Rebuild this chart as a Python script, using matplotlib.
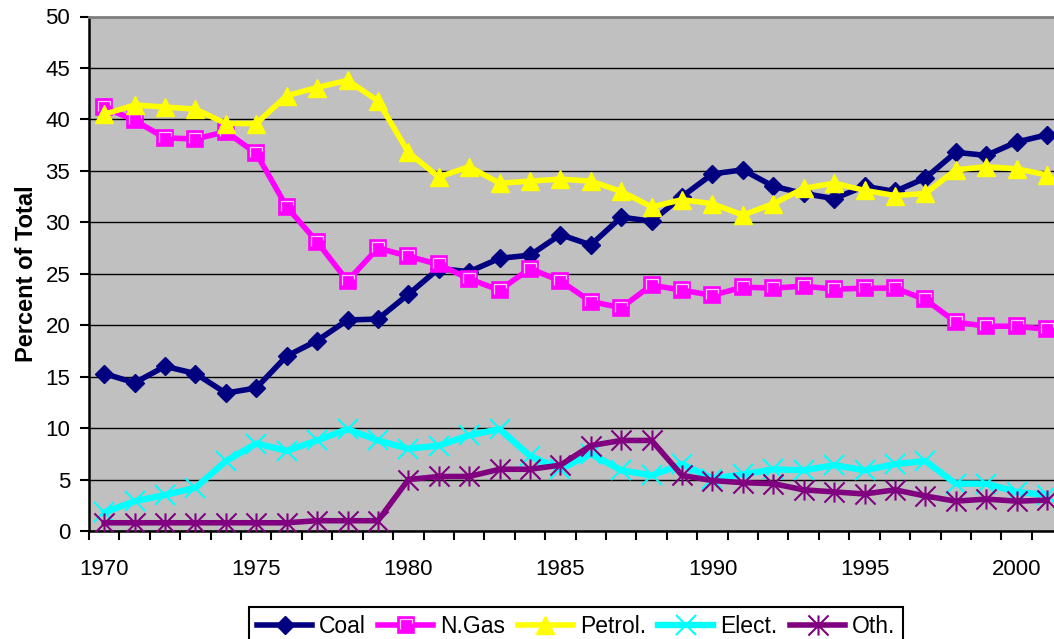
import matplotlib
matplotlib.use("Agg")
import matplotlib.pyplot as plt
from matplotlib.path import Path
from matplotlib.ticker import MultipleLocator, FixedLocator

plt.rcParams['font.family'] = ['Liberation Sans', 'DejaVu Sans']

years = list(range(1970, 2002))

coal = [15.3, 14.4, 16.0, 15.3, 13.4, 13.9, 17.0, 18.5, 20.5, 20.6,
        23.0, 25.5, 25.2, 26.5, 26.8, 28.8, 27.8, 30.5, 30.1, 32.5,
        34.7, 35.1, 33.5, 32.8, 32.3, 33.5, 33.0, 34.3, 36.8, 36.5,
        37.8, 38.5]
ngas = [41.2, 39.9, 38.2, 38.1, 38.8, 36.7, 31.5, 28.1, 24.3, 27.5,
        26.7, 25.9, 24.5, 23.4, 25.5, 24.3, 22.3, 21.7, 23.9, 23.4,
        22.9, 23.7, 23.6, 23.8, 23.5, 23.6, 23.6, 22.5, 20.3, 19.9,
        19.9, 19.6]
petrol = [40.5, 41.4, 41.2, 41.0, 39.6, 39.6, 42.3, 43.1, 43.8, 41.8,
          36.8, 34.4, 35.4, 33.8, 34.0, 34.2, 34.0, 33.0, 31.5, 32.2,
          31.8, 30.7, 31.8, 33.3, 33.8, 33.1, 32.6, 32.8, 35.1, 35.4,
          35.2, 34.6]
elect = [1.8, 2.9, 3.5, 4.2, 6.8, 8.5, 7.8, 8.8, 9.9, 8.8,
         8.0, 8.3, 9.3, 9.9, 7.3, 6.0, 7.5, 5.9, 5.4, 6.5,
         5.1, 5.5, 6.0, 5.9, 6.4, 5.9, 6.5, 6.8, 4.6, 4.6,
         3.8, 3.5]
other = [0.8, 0.8, 0.8, 0.8, 0.8, 0.8, 0.8, 1.0, 1.0, 1.0,
         5.0, 5.3, 5.3, 6.0, 6.0, 6.4, 8.3, 8.8, 8.8, 5.4,
         4.9, 4.7, 4.6, 4.0, 3.8, 3.6, 4.0, 3.4, 2.9, 3.1,
         2.9, 3.0]

series_names = ["Coal", "N.Gas", "Petrol.", "Elect.", "Oth."]
year_labels = ["1970", "1975", "1980", "1985", "1990", "1995", "2000"]

# asterisk marker: vertical bar plus an X
star_path = Path(
    [(0, -1), (0, 1), (-1, -1), (1, 1), (-1, 1), (1, -1)],
    [Path.MOVETO, Path.LINETO, Path.MOVETO, Path.LINETO, Path.MOVETO, Path.LINETO])
# highlight edge drawn inside the square marker
inner_path = Path(
    [(-1, -0.8), (-1, 1), (1, 1), (1, 0.3)],
    [Path.MOVETO, Path.LINETO, Path.LINETO, Path.LINETO])

fig = plt.figure(figsize=(10.54, 6.39), dpi=100)
ax = fig.add_axes([89 / 1054, 108 / 639, (1054 - 89) / 1054, 514.5 / 639])
ax.set_facecolor('#C0C0C0')

x = list(range(len(years)))
lw = 4.0

h_coal, = ax.plot(x, coal, color='#000080', lw=lw, marker='D', ms=9,
                  mfc='#000080', mec='#000080', zorder=3)
h_gas, = ax.plot(x, ngas, color='#FF00FF', lw=lw, marker='s', ms=11.5,
                 mfc='#FF00FF', mec='#FF00FF', mew=1.2, zorder=4)
h_gas_in, = ax.plot(x, ngas, ls='none', marker=inner_path, ms=8,
                    mfc='none', mec='#FFC8FF', mew=0.9, zorder=4.1)
h_pet, = ax.plot(x, petrol, color='#FFFF00', lw=lw, marker='^', ms=13.5,
                 mfc='#FFFF00', mec='#FFFF00', zorder=5)
h_ele, = ax.plot(x, elect, color='#00FFFF', lw=lw + 0.6, marker='x', ms=15,
                 mec='#00FFFF', mew=1.5, zorder=6)
h_oth, = ax.plot(x, other, color='#800080', lw=lw, marker=star_path, ms=14.5,
                 mfc='none', mec='#800080', mew=1.5, zorder=7)

ax.set_ylim(0, 50)
ax.set_xlim(-0.5, 31.23)
ax.yaxis.set_major_locator(MultipleLocator(5))
ax.grid(axis='y', color='black', lw=1.0, zorder=1)
ax.set_axisbelow(True)

ax.xaxis.set_major_locator(FixedLocator([0, 5, 10, 15, 20, 25, 30]))
ax.set_xticklabels(year_labels)
ax.xaxis.set_minor_locator(FixedLocator([i - 0.5 for i in range(len(years) + 1)]))
ax.tick_params(axis='x', which='major', length=0, pad=20, labelsize=16)
ax.tick_params(axis='x', which='minor', length=6.5, width=1.5, direction='out')
ax.tick_params(axis='y', length=6.5, width=1.5, direction='out', pad=7,
               labelsize=16)

for side in ('left', 'bottom'):
    ax.spines[side].set_linewidth(1.8)
    ax.spines[side].set_color('black')
ax.spines['top'].set_color('#808080')
ax.spines['top'].set_linewidth(2.0)
ax.spines['right'].set_visible(False)

ax.set_ylabel("Percent of Total", fontsize=17, fontweight='bold', labelpad=5)

leg = fig.legend([h_coal, (h_gas, h_gas_in), h_pet, h_ele, h_oth], series_names,
                 loc='upper left', bbox_to_anchor=(249 / 1054, 1 - 607 / 639),
                 bbox_transform=fig.transFigure, ncol=5, fontsize=16.5,
                 frameon=True, fancybox=False, framealpha=1, edgecolor='black',
                 borderaxespad=0, borderpad=0.35, handlelength=2.4,
                 handletextpad=0.3, columnspacing=0.55)
leg.get_frame().set_linewidth(1.5)

fig.savefig("out.png", dpi=100)
